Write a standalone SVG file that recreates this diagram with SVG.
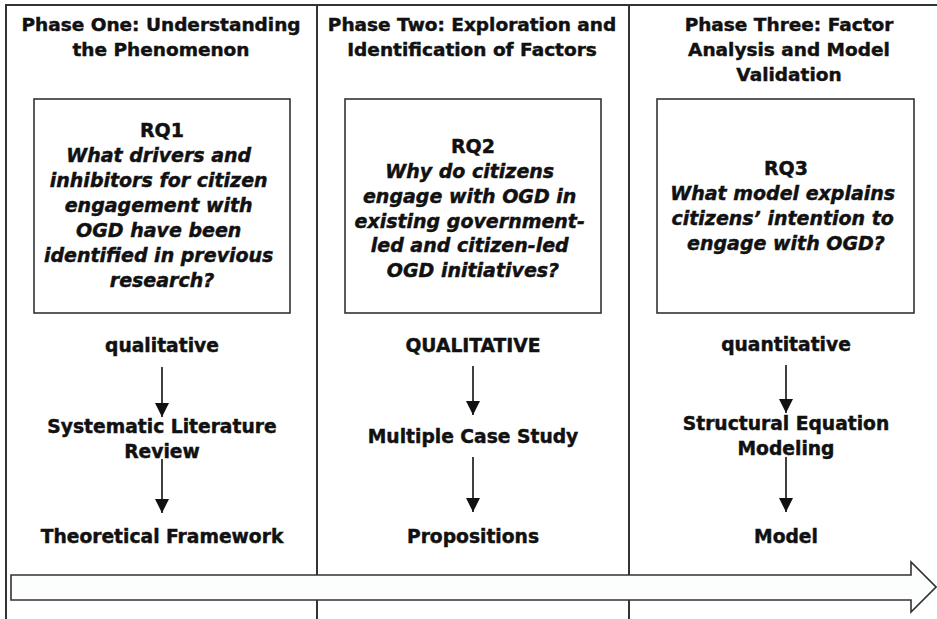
<svg xmlns="http://www.w3.org/2000/svg" width="937" height="619" viewBox="0 0 937 619">
  <style>
    .frame { stroke: #333; stroke-width: 2; fill: none; }
    .box { stroke: #333; stroke-width: 1.6; fill: #fff; }
    text { font-family: "DejaVu Sans", Verdana, sans-serif; font-weight: bold; fill: #111; stroke: #111; stroke-width: 0.45; text-anchor: middle; }
    .head { font-size: 18.5px; }
    .rq { font-size: 19px; }
    .q { font-style: italic; }
    .lbl { font-size: 18.7px; }
    .flow { stroke: #111; stroke-width: 1.6; fill: none; marker-end: url(#tip); }
  </style>
  <defs>
    <marker id="tip" markerUnits="userSpaceOnUse" markerWidth="14" markerHeight="14" refX="14" refY="7" orient="auto">
      <path d="M0,0 L14,7 L0,14 Z" fill="#111"/>
    </marker>
  </defs>
  <rect width="937" height="619" fill="#fff"/>

  <!-- outer frame and column dividers -->
  <g id="frame">
    <path class="frame" d="M937,5 H6 V619"/>
    <line class="frame" x1="317" y1="5" x2="317" y2="619"/>
    <line class="frame" x1="629" y1="5" x2="629" y2="619"/>
  </g>

  <!-- phase one -->
  <g id="phase1">
    <text class="head" x="161" y="31">Phase One: Understanding</text>
    <text class="head" x="161" y="56">the Phenomenon</text>
  </g>
  <g id="rq1">
    <rect class="box" x="34" y="99" width="256" height="214"/>
    <text class="rq" x="162" y="137">RQ1</text>
    <text class="rq q" x="162">
      <tspan x="162" y="162">What drivers and</tspan>
      <tspan x="162" y="187">inhibitors for citizen</tspan>
      <tspan x="162" y="212">engagement with</tspan>
      <tspan x="162" y="237">OGD have been</tspan>
      <tspan x="162" y="262">identified in previous</tspan>
      <tspan x="162" y="287">research?</tspan>
    </text>
  </g>
  <g id="qual1"><text class="lbl" x="162" y="352">qualitative</text></g>
  <g id="slr"><text class="lbl" x="162" y="433">Systematic Literature</text><text class="lbl" x="162" y="458">Review</text></g>
  <g id="framework"><text class="lbl" x="162" y="543">Theoretical Framework</text></g>

  <!-- phase two -->
  <g id="phase2">
    <text class="head" x="472" y="31">Phase Two: Exploration and</text>
    <text class="head" x="472" y="56">Identification of Factors</text>
  </g>
  <g id="rq2">
    <rect class="box" x="345" y="99" width="256" height="214"/>
    <text class="rq" x="473" y="153">RQ2</text>
    <text class="rq q" x="473">
      <tspan x="473" y="178">Why do citizens</tspan>
      <tspan x="473" y="203">engage with OGD in</tspan>
      <tspan x="473" y="228">existing government-</tspan>
      <tspan x="473" y="252">led and citizen-led</tspan>
      <tspan x="473" y="277">OGD initiatives?</tspan>
    </text>
  </g>
  <g id="qual2"><text class="lbl" x="473" y="352">QUALITATIVE</text></g>
  <g id="case"><text class="lbl" x="473" y="443">Multiple Case Study</text></g>
  <g id="propositions"><text class="lbl" x="473" y="543">Propositions</text></g>

  <!-- phase three -->
  <g id="phase3">
    <text class="head" x="789" y="31">Phase Three: Factor</text>
    <text class="head" x="789" y="56">Analysis and Model</text>
    <text class="head" x="789" y="81">Validation</text>
  </g>
  <g id="rq3">
    <rect class="box" x="657" y="99" width="257" height="214"/>
    <text class="rq" x="786" y="175">RQ3</text>
    <text class="rq q" x="786">
      <tspan x="786" y="200">What model explains</tspan>
      <tspan x="786" y="225">citizens’ intention to</tspan>
      <tspan x="786" y="250">engage with OGD?</tspan>
    </text>
  </g>
  <g id="quant3"><text class="lbl" x="786" y="351">quantitative</text></g>
  <g id="sem"><text class="lbl" x="786" y="430">Structural Equation</text><text class="lbl" x="786" y="455">Modeling</text></g>
  <g id="model"><text class="lbl" x="786" y="543">Model</text></g>

  <!-- vertical flow arrows -->
  <g id="connectors">
    <line class="flow" x1="162" y1="367" x2="162" y2="417"/>
    <line class="flow" x1="162" y1="459" x2="162" y2="513"/>
    <line class="flow" x1="473" y1="366" x2="473" y2="415"/>
    <line class="flow" x1="473" y1="457" x2="473" y2="512"/>
    <line class="flow" x1="786" y1="365" x2="786" y2="413"/>
    <line class="flow" x1="786" y1="457" x2="786" y2="512"/>
  </g>

  <!-- timeline arrow -->
  <g id="timeline">
    <path d="M11,575 H911 V562 L936,587 L911,612 V600 H11 Z" fill="#fcfdfd" stroke="#333" stroke-width="1.6"/>
  </g>
</svg>
